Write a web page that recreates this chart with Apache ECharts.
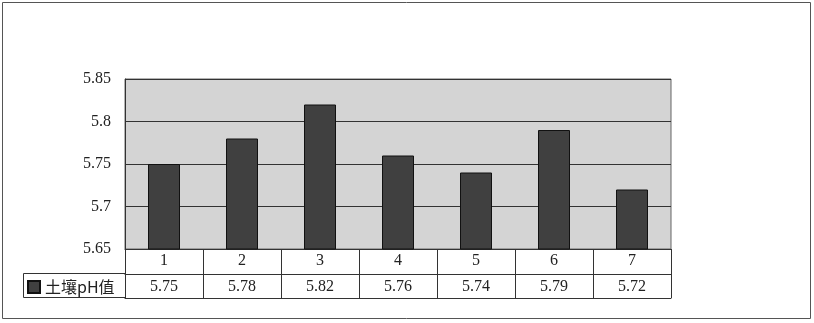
<!DOCTYPE html>
<html><head><meta charset="utf-8">
<script src="https://cdn.jsdelivr.net/npm/echarts@6/dist/echarts.min.js"></script>
<style>html,body{margin:0;padding:0;background:#fff}#c{width:814px;height:323px}</style>
</head><body><div id="c"></div>
<script>
var categories = ['1','2','3','4','5','6','7'];
var seriesName = '土壤pH值';
var phValues = [5.75, 5.78, 5.82, 5.76, 5.74, 5.79, 5.72];
var yMin = 5.65, yMax = 5.85, yStep = 0.05;

var numFont = 'Liberation Serif';
var chart = echarts.init(document.getElementById('c'));
chart.setOption({
  animation: false,
  backgroundColor: '#fff',
  grid: {left: 125, right: 143, top: 79, bottom: 74, show: true, backgroundColor: '#d4d4d4', borderColor: '#666', borderWidth: 1},
  legend: {
    left: 27, top: 279, itemWidth: 12, itemHeight: 12, icon: 'rect',
    textStyle: {fontSize: 16, color: '#222', fontFamily: 'Noto Sans CJK SC'},
    itemGap: 4, padding: 0
  },
  xAxis: [
    {type: 'category', data: categories, position: 'bottom',
     axisLine: {show: true, lineStyle: {color: '#333', width: 1}},
     axisTick: {show: true, interval: 0, length: 49, lineStyle: {color: '#333'}},
     axisLabel: {margin: 4, fontSize: 16, color: '#222', fontFamily: numFont}},
    {type: 'category', data: phValues.map(function(v){return v.toFixed(2);}), position: 'bottom', offset: 25,
     axisLine: {show: true, lineStyle: {color: '#333', width: 1}},
     axisTick: {show: false},
     axisLabel: {margin: 5, fontSize: 16, color: '#222', fontFamily: numFont}},
    {type: 'category', data: categories, position: 'bottom', offset: 49,
     axisLine: {show: true, lineStyle: {color: '#333', width: 1}},
     axisTick: {show: false}, axisLabel: {show: false}}
  ],
  yAxis: {
    type: 'value', min: yMin, max: yMax, interval: yStep,
    axisLine: {show: true, lineStyle: {color: '#333'}},
    axisTick: {show: false},
    splitLine: {show: true, lineStyle: {color: '#333', width: 1}},
    axisLabel: {margin: 14, fontSize: 16, color: '#222', fontFamily: numFont,
      formatter: function(v){return String(parseFloat(v.toFixed(2)));}}
  },
  series: [{
    name: seriesName, type: 'bar', data: phValues, barWidth: 32,
    itemStyle: {color: '#404040', borderColor: '#111', borderWidth: 1}
  }],
  graphic: [
    {type: 'rect', shape: {x: 2.5, y: 2.5, width: 808, height: 316}, style: {fill: 'none', stroke: '#555', lineWidth: 1}, silent: true, z: -1},
    {type: 'polyline', shape: {points: [[125, 273.5], [23.5, 273.5], [23.5, 297.5], [125, 297.5]]}, style: {fill: 'none', stroke: '#333', lineWidth: 1}, silent: true}
  ]
});
</script></body></html>
